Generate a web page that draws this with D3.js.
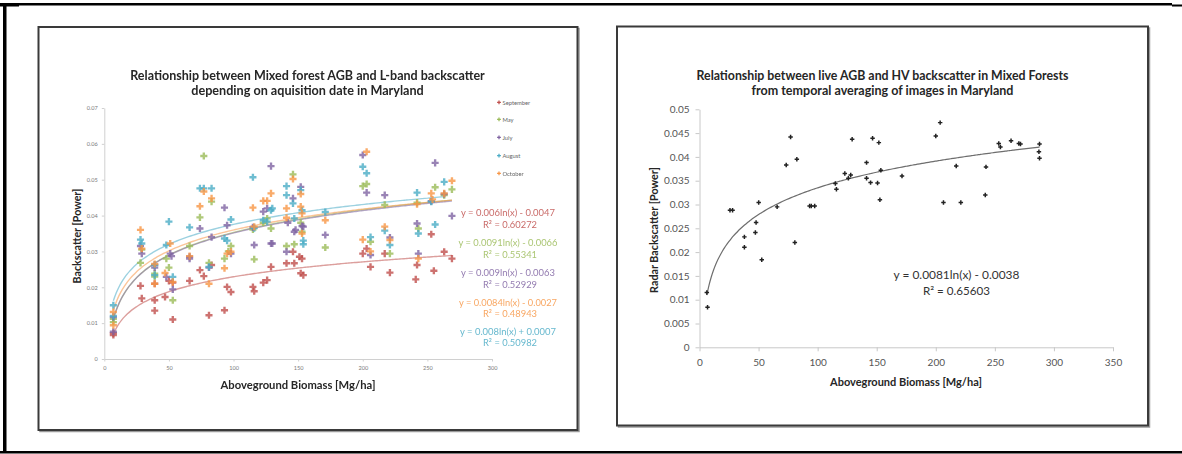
<!DOCTYPE html>
<html><head><meta charset="utf-8">
<script src="https://cdn.jsdelivr.net/npm/d3@7"></script>
<style>html,body{margin:0;padding:0;background:#fff;} svg{display:block;}</style>
</head><body>
<svg id="c" width="1182" height="454"></svg>
<script>
// ---------------- DATA ----------------
const leftTitle = ["Relationship between Mixed forest AGB and L-band backscatter", "depending on aquisition date in Maryland"];
const rightTitle = ["Relationship between live AGB and HV backscatter in Mixed Forests", "from temporal averaging of images in Maryland"];
const xAxisTitle = "Aboveground Biomass [Mg/ha]";
const leftYTitle = "Backscatter [Power]";
const rightYTitle = "Radar Backscatter [Power]";

const seriesNames = ["September", "May", "July", "August", "October"];
const seriesColors = ["#c0504d", "#9bbb59", "#8064a2", "#4bacc6", "#f79646"];

const september = [[7,0.0067],[7,0.0072],[28,0.0204],[29,0.0169],[39,0.0210],[39,0.0164],[39,0.0135],[47,0.0173],[50,0.0218],[53,0.0213],[53,0.0110],[66,0.0218],[74,0.0248],[77,0.0231],[81,0.0122],[83,0.0262],[93,0.0136],[95,0.0201],[98,0.0187],[115,0.0201],[116,0.0189],[123,0.0213],[126,0.0220],[129,0.0257],[141,0.0267],[146,0.0299],[147,0.0267],[151,0.0285],[153,0.0280],[152,0.0239],[154,0.0234],[200,0.0294],[203,0.0308],[206,0.0257],[217,0.0294],[221,0.0241],[242,0.0262],[241,0.0222],[253,0.0348],[255,0.0246],[263,0.0299],[269,0.0280]];
const may = [[7,0.0112],[7,0.0103],[28,0.0268],[29,0.0305],[39,0.0238],[39,0.0230],[48,0.0280],[50,0.0255],[53,0.0164],[66,0.0315],[74,0.0395],[77,0.0566],[81,0.0268],[83,0.0439],[93,0.0280],[96,0.0300],[98,0.0315],[115,0.0361],[116,0.0278],[123,0.0380],[126,0.0392],[129,0.0364],[141,0.0315],[146,0.0515],[147,0.0320],[152,0.0380],[153,0.0355],[171,0.0311],[200,0.0482],[203,0.0488],[206,0.0327],[217,0.0430],[221,0.0294],[242,0.0436],[243,0.0364],[256,0.0479],[263,0.0457],[269,0.0473]];
const july = [[7,0.0117],[7,0.0076],[28,0.0315],[29,0.0294],[39,0.0262],[39,0.0255],[48,0.0229],[51,0.0294],[52,0.0287],[53,0.0194],[66,0.0285],[66,0.0280],[74,0.0364],[81,0.0255],[83,0.0340],[93,0.0422],[95,0.0373],[98,0.0294],[115,0.0367],[116,0.0318],[123,0.0411],[126,0.0420],[129,0.0538],[129,0.0322],[130,0.0322],[141,0.0299],[142,0.0380],[146,0.0448],[147,0.0355],[148,0.0360],[152,0.0480],[153,0.0371],[154,0.0369],[171,0.0346],[200,0.0569],[203,0.0464],[206,0.0290],[217,0.0457],[221,0.0339],[242,0.0378],[243,0.0294],[253,0.0440],[256,0.0547],[263,0.0460],[269,0.0399]];
const august = [[7,0.0150],[7,0.0120],[28,0.0333],[29,0.0322],[39,0.0234],[39,0.0262],[48,0.0318],[50,0.0383],[53,0.0229],[66,0.0367],[74,0.0476],[77,0.0476],[81,0.0257],[83,0.0476],[93,0.0336],[95,0.0330],[98,0.0389],[115,0.0507],[116,0.0365],[123,0.0387],[126,0.0383],[129,0.0415],[130,0.0420],[141,0.0482],[141,0.0457],[146,0.0434],[147,0.0392],[152,0.0471],[153,0.0415],[154,0.0330],[154,0.0320],[171,0.0410],[200,0.0536],[203,0.0518],[206,0.0340],[217,0.0358],[221,0.0318],[242,0.0464],[243,0.0350],[253,0.0439],[256,0.0375],[263,0.0494]];
const october = [[7,0.0131],[7,0.0094],[28,0.0360],[29,0.0308],[39,0.0210],[39,0.0265],[47,0.0240],[51,0.0322],[53,0.0215],[66,0.0287],[74,0.0426],[77,0.0467],[81,0.0210],[83,0.0448],[93,0.0253],[95,0.0294],[98,0.0299],[115,0.0422],[116,0.0369],[123,0.0441],[126,0.0441],[129,0.0462],[141,0.0420],[141,0.0394],[146,0.0502],[152,0.0460],[153,0.0406],[153,0.0350],[152,0.0425],[171,0.0387],[200,0.0333],[203,0.0578],[206,0.0300],[217,0.0369],[221,0.0332],[242,0.0432],[243,0.0280],[253,0.0462],[254,0.0445],[263,0.0462],[269,0.0497]];

// log trendlines y = a ln(x) + b, as printed on the chart
const trendA = [0.006, 0.0091, 0.009, 0.008, 0.0084];
const trendB = [-0.0047, -0.0066, -0.0063, 0.0007, -0.0027];
const eqTexts = ["y = 0.006ln(x) - 0.0047", "y = 0.0091ln(x) - 0.0066", "y = 0.009ln(x) - 0.0063", "y = 0.008ln(x) + 0.0007", "y = 0.0084ln(x) - 0.0027"];
const r2Texts = ["R² = 0.60272", "R² = 0.55341", "R² = 0.52929", "R² = 0.50982", "R² = 0.48943"];

const averaged = [[6.2,0.0115],[6.8,0.0084],[25.8,0.0288],[28,0.0288],[38,0.0232],[38,0.0210],[47.3,0.0241],[47.9,0.0262],[50.1,0.0304],[52.7,0.0184],[65.7,0.0295],[73.4,0.0383],[77.1,0.0442],[80.7,0.0220],[82.4,0.0395],[93.2,0.0297],[94.6,0.0297],[97.5,0.0297],[115,0.0344],[115.9,0.0332],[123,0.0365],[126,0.0355],[128,0.0362],[129.2,0.0437],[141.4,0.0388],[141.4,0.0355],[144.8,0.0346],[146.5,0.0439],[150.7,0.0345],[151.8,0.0430],[152.7,0.0310],[153.5,0.0372],[171.4,0.0360],[200,0.0444],[203.7,0.0472],[206.5,0.0304],[217.3,0.0381],[221.2,0.0304],[241.9,0.0320],[242.5,0.0379],[253.3,0.0428],[254.7,0.0421],[263.7,0.0434],[270.3,0.0428],[271.7,0.0427],[287.8,0.0427],[287.3,0.0411],[287.8,0.0397]];
const avgTrendA = 0.0081, avgTrendB = -0.0038;
const avgEq = "y = 0.0081ln(x) - 0.0038";
const avgR2 = "R² = 0.65603";

const leftXTicks = [0, 50, 100, 150, 200, 250, 300];
const leftXTickLabels = ["0", "50", "100", "150", "200", "250", "300"];
const leftYTicks = [0, 0.01, 0.02, 0.03, 0.04, 0.05, 0.06, 0.07];
const leftYTickLabels = ["0", "0.01", "0.02", "0.03", "0.04", "0.05", "0.06", "0.07"];
const rightXTicks = [0, 50, 100, 150, 200, 250, 300, 350];
const rightXTickLabels = ["0", "50", "100", "150", "200", "250", "300", "350"];
const rightYTicks = [0, 0.005, 0.01, 0.015, 0.02, 0.025, 0.03, 0.035, 0.04, 0.045, 0.05];
const rightYTickLabels = ["0", "0.005", "0.01", "0.015", "0.02", "0.025", "0.03", "0.035", "0.04", "0.045", "0.05"];

// ---------------- DRAWING ----------------
const seriesData = [september, may, july, august, october];
const FONT = "Lato, 'Open Sans', sans-serif";
const svg = d3.select("#c");

const defs = svg.append("defs");
defs.append("filter").attr("id", "soft").attr("x", "-50%").attr("y", "-50%").attr("width", "200%").attr("height", "200%")
  .append("feGaussianBlur").attr("stdDeviation", 0.45);

function fit(sel, w) {
  const len = sel.node().getComputedTextLength();
  const fs = parseFloat(sel.attr("font-size"));
  sel.attr("font-size", fs * w / len);
  return sel;
}
function text(g, str, x, y, fs, opts = {}) {
  const t = g.append("text").attr("x", x).attr("y", y).attr("font-family", FONT)
    .attr("font-size", fs).attr("fill", opts.fill || "#262626")
    .attr("font-weight", opts.bold ? 700 : 400)
    .attr("text-anchor", opts.anchor || "middle")
    .attr("dominant-baseline", "central").text(str);
  if (opts.rotate) t.attr("transform", `rotate(-90 ${x} ${y})`);
  if (opts.width) fit(t, opts.width);
  return t;
}

// outer frame
svg.append("rect").attr("x", 0).attr("y", 3).attr("width", 1172).attr("height", 2.5).attr("fill", "#000");
svg.append("rect").attr("x", 0).attr("y", 3).attr("width", 19).attr("height", 3.5).attr("fill", "#000");
svg.append("rect").attr("x", 1172).attr("y", 4.5).attr("width", 10).attr("height", 2).attr("fill", "#000");
svg.append("rect").attr("x", 3).attr("y", 3).attr("width", 3.5).attr("height", 450).attr("fill", "#000");
svg.append("rect").attr("x", 0).attr("y", 451).attr("width", 1182).attr("height", 2.5).attr("fill", "#000");

// panel boxes
function panel(x0, y0, x1, y1) {
  svg.append("rect").attr("x", x0 + 1.5).attr("y", y0 + 1.5).attr("width", x1 - x0).attr("height", y1 - y0)
    .attr("fill", "none").attr("stroke", "#9a9a9a").attr("stroke-width", 1.5);
  svg.append("rect").attr("x", x0).attr("y", y0).attr("width", x1 - x0).attr("height", y1 - y0)
    .attr("fill", "#fff").attr("stroke", "#3a3a3a").attr("stroke-width", 2);
}
panel(38.5, 27, 577.5, 430);
panel(617, 26.5, 1148, 425.5);

// ---- LEFT CHART ----
const gL = svg.append("g");
const xL = d3.scaleLinear().domain([0, 300]).range([104.3, 492]);
const yL = d3.scaleLinear().domain([0, 0.07]).range([359, 108]);

const axL_x = gL.append("g").attr("transform", "translate(0,359)")
  .call(d3.axisBottom(xL).tickValues(leftXTicks).tickFormat((d, i) => leftXTickLabels[i]).tickSize(2.5).tickSizeOuter(0).tickPadding(5));
const axL_y = gL.append("g").attr("transform", `translate(${xL(0)},0)`)
  .call(d3.axisLeft(yL).tickValues(leftYTicks).tickFormat((d, i) => leftYTickLabels[i]).tickSize(2.5).tickSizeOuter(0).tickPadding(4));
[axL_x, axL_y].forEach(a => {
  a.select(".domain").attr("stroke", "#d0d0d0").attr("stroke-width", 1);
  a.selectAll(".tick line").attr("stroke", "#d0d0d0");
  a.selectAll(".tick text").attr("font-family", FONT).attr("font-size", 5.6).attr("fill", "#7a7a7a");
});

const lineL = d3.line().x(d => xL(d[0])).y(d => yL(d[1])).curve(d3.curveBasis);
seriesData.forEach((s, i) => {
  const ext = d3.extent(s, d => d[0]);
  const pts = d3.range(ext[0], ext[1] + 0.001, (ext[1] - ext[0]) / 120).map(x => [x, trendA[i] * Math.log(x) + trendB[i]]);
  gL.append("path").attr("d", lineL(pts)).attr("fill", "none").attr("stroke", seriesColors[i])
    .attr("stroke-opacity", 0.55).attr("stroke-width", 1.4);
});

const crossL = d3.symbol().type(d3.symbolCross).size(28);
const markersL = gL.append("g").attr("filter", "url(#soft)");
seriesData.forEach((s, i) => {
  markersL.append("g").selectAll("path").data(s).join("path")
    .attr("d", crossL).attr("transform", d => `translate(${xL(d[0])},${yL(d[1])})`)
    .attr("fill", seriesColors[i]).attr("fill-opacity", 0.8);
});

// legend
const legY = [102.3, 119.3, 137.3, 155.7, 173.3];
const crossLeg = d3.symbol().type(d3.symbolCross).size(8);
seriesNames.forEach((n, i) => {
  gL.append("path").attr("d", crossLeg).attr("transform", `translate(499,${legY[i]})`).attr("fill", seriesColors[i]);
  text(gL, n, 502.5, legY[i], 5.8, { anchor: "start", fill: "#666" });
});

// equations (layout positions)
const eqY = [212.7, 242.7, 272.7, 331, 302];
const eqW = [94, 99, 94, 96, 98];
seriesNames.forEach((n, i) => {
  text(gL, eqTexts[i], 508, eqY[i], 9, { fill: seriesColors[i], width: eqW[i] }).attr("fill-opacity", 0.85);
  text(gL, r2Texts[i], 510, eqY[i] + 11.5, 9, { fill: seriesColors[i], width: 54 }).attr("fill-opacity", 0.85);
});

// titles
text(gL, leftTitle[0], 307.5, 75, 12, { bold: true, width: 355 });
text(gL, leftTitle[1], 307.5, 90, 12, { bold: true, width: 233 });
text(gL, xAxisTitle, 298, 384, 10, { bold: true, width: 155 });
text(gL, leftYTitle, 76, 236, 10, { bold: true, rotate: true, width: 95 });

// ---- RIGHT CHART ----
const gR = svg.append("g");
const xR = d3.scaleLinear().domain([0, 350]).range([699.5, 1113]);
const yR = d3.scaleLinear().domain([0, 0.05]).range([347.3, 109.3]);

const axR_x = gR.append("g").attr("transform", "translate(0,347.3)")
  .call(d3.axisBottom(xR).tickValues(rightXTicks).tickFormat((d, i) => rightXTickLabels[i]).tickSize(4).tickSizeOuter(0).tickPadding(8));
const axR_y = gR.append("g").attr("transform", `translate(${xR(0)},0)`)
  .call(d3.axisLeft(yR).tickValues(rightYTicks).tickFormat((d, i) => rightYTickLabels[i]).tickSize(4).tickSizeOuter(0).tickPadding(6));
[axR_x, axR_y].forEach(a => {
  a.select(".domain").attr("stroke", "#c8c8c8").attr("stroke-width", 1);
  a.selectAll(".tick line").attr("stroke", "#c8c8c8");
  a.selectAll(".tick text").attr("font-family", FONT).attr("font-size", 10).attr("fill", "#555");
});

const lineR = d3.line().x(d => xR(d[0])).y(d => yR(d[1])).curve(d3.curveBasis);
{
  const ext = d3.extent(averaged, d => d[0]);
  const pts = d3.range(ext[0], ext[1] + 0.001, (ext[1] - ext[0]) / 150).map(x => [x, avgTrendA * Math.log(x) + avgTrendB]);
  gR.append("path").attr("d", lineR(pts)).attr("fill", "none").attr("stroke", "#6e6e6e").attr("stroke-width", 1.2);
}
const crossR = d3.symbol().type(d3.symbolCross).size(11);
gR.append("g").selectAll("path").data(averaged).join("path")
  .attr("d", crossR).attr("transform", d => `translate(${xR(d[0])},${yR(d[1])})`)
  .attr("fill", "#222");

text(gR, avgEq, 956.5, 274, 12, { fill: "#333", width: 126 });
text(gR, avgR2, 956.5, 290, 12, { fill: "#333", width: 67 });

text(gR, rightTitle[0], 882.5, 75, 12, { bold: true, width: 372 });
text(gR, rightTitle[1], 882.5, 90, 12, { bold: true, width: 262 });
text(gR, xAxisTitle, 906, 381, 10, { bold: true, width: 152 });
text(gR, rightYTitle, 653, 230, 10, { bold: true, rotate: true, width: 126 });
</script></body></html>
